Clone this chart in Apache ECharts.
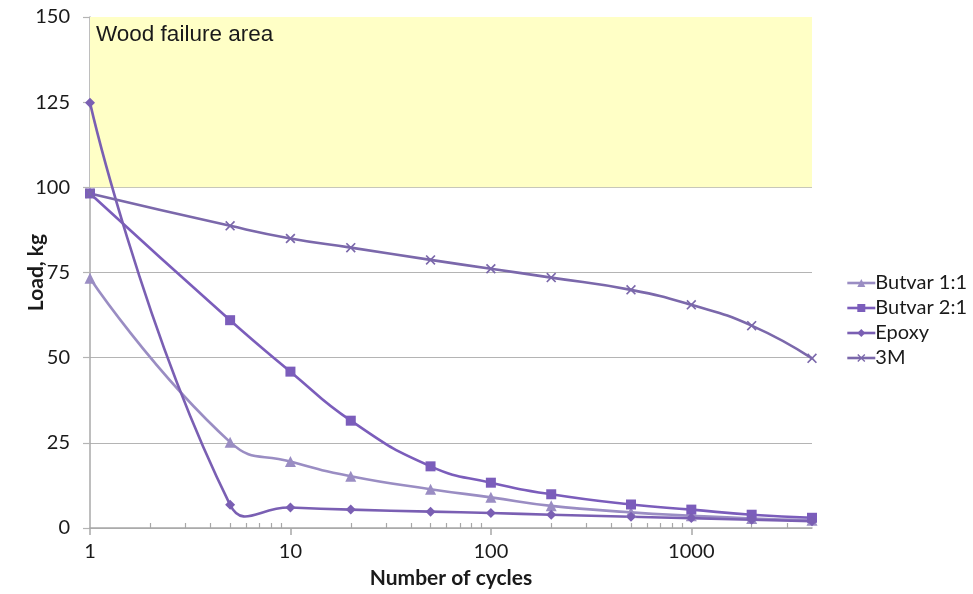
<!DOCTYPE html>
<html>
<head>
<meta charset="utf-8">
<script src="https://cdn.jsdelivr.net/npm/echarts@6/dist/echarts.min.js"></script>
<style>
  html, body { margin: 0; padding: 0; background: #fff; }
  #chart { width: 973px; height: 594px; }
</style>
</head>
<body>
<div id="chart"></div>
<script>
// Number of load cycles at which each adhesive was measured
const cycles = [1, 5, 10, 20, 50, 100, 200, 500, 1000, 2000, 4000];

// Load carried (kg) per adhesive
const butvar11 = [73.3, 25.2, 19.5, 15.2, 11.4, 9.0, 6.5, 4.6, 3.6, 2.8, 2.3];
const butvar21 = [98.2, 61.0, 45.9, 31.5, 18.1, 13.3, 9.9, 6.9, 5.4, 3.9, 3.0];
const epoxy    = [124.8, 6.8, 6.0, 5.4, 4.8, 4.4, 3.9, 3.3, 2.9, 2.4, 2.0];
const threeM   = [98.2, 88.7, 85.0, 82.3, 78.7, 76.1, 73.5, 69.9, 65.5, 59.4, 49.8];

// Axis labelling
const xMajorTicks = [1, 10, 100, 1000];
const xMinorTicks = [2, 3, 4, 5, 6, 7, 8, 9, 20, 30, 40, 50, 60, 70, 80, 90,
                     200, 300, 400, 500, 600, 700, 800, 900, 2000, 3000];
const yTicks = [0, 25, 50, 75, 100, 125, 150];

// Shaded region above the wood strength limit
const failureBand = [100, 150];
const failureLabel = 'Wood failure area';

const seriesNames = ['Butvar 1:1', 'Butvar 2:1', 'Epoxy', '3M'];
const seriesData = [butvar11, butvar21, epoxy, threeM];
const seriesColors = ['#9a8dc3', '#7b5dbb', '#7a5fb3', '#7b68ab'];

const font = 'Lato, "Open Sans", sans-serif';
const gridColor = '#b4b4b4';
const axisColor = '#a8a8a8';
const xShape = 'path://M0,1.2 L1.2,0 L5,3.8 L8.8,0 L10,1.2 L6.2,5 L10,8.8 L8.8,10 L5,6.2 L1.2,10 L0,8.8 L3.8,5 Z';
const symbols = ['triangle', 'rect', 'diamond', xShape];
const symbolSizes = [11, 10, 10, 10];

const SMOOTH = 0.5;
const LINE_W = 2.6;

const pairs = arr => cycles.map((c, i) => [c, arr[i]]);

const gridRect = { left: 90, right: 161, top: 17, bottom: 66, outerBoundsMode: 'none', containLabel: false };

const chart = echarts.init(document.getElementById('chart'), null, { renderer: 'canvas' });

// Curve through the points in pixel space: each control point follows the
// neighbour-to-neighbour direction, weighted by segment length, unclamped.
function curveSegment(values, color) {
  return function (params, api) {
    const i = params.dataIndex;
    if (i >= cycles.length - 1) return { type: 'group', children: [] };
    const pt = k => api.coord([cycles[Math.max(0, Math.min(cycles.length - 1, k))],
                               values[Math.max(0, Math.min(cycles.length - 1, k))]]);
    const p0 = pt(i - 1), p1 = pt(i), p2 = pt(i + 1), p3 = pt(i + 2);
    const dist = (a, b) => Math.hypot(b[0] - a[0], b[1] - a[1]);
    function ctrl(prev, cur, next, forward) {
      const d0 = dist(prev, cur), d1 = dist(cur, next);
      if (d0 + d1 === 0) return cur.slice();
      const vx = next[0] - prev[0], vy = next[1] - prev[1];
      const w = forward ? d1 / (d0 + d1) : d0 / (d0 + d1);
      const sgn = forward ? 1 : -1;
      return [cur[0] + sgn * vx * SMOOTH * w, cur[1] + sgn * vy * SMOOTH * w];
    }
    const c1 = i === 0 ? p1.slice() : ctrl(p0, p1, p2, true);
    const c2 = i + 1 === cycles.length - 1 ? p2.slice() : ctrl(p1, p2, p3, false);
    return {
      type: 'bezierCurve',
      shape: { x1: p1[0], y1: p1[1], x2: p2[0], y2: p2[1],
               cpx1: c1[0], cpy1: c1[1], cpx2: c2[0], cpy2: c2[1] },
      style: { stroke: color, lineWidth: LINE_W, fill: null, lineCap: 'round' }
    };
  };
}

const curveSeries = seriesData.map((vals, k) => ({
  name: seriesNames[k] + ' curve',
  type: 'custom',
  xAxisIndex: 0,
  yAxisIndex: 0,
  data: pairs(vals),
  renderItem: curveSegment(vals, seriesColors[k]),
  silent: true,
  clip: false,
  z: 2
}));

const markerSeries = seriesData.map((vals, k) => ({
  name: seriesNames[k],
  type: 'line',
  xAxisIndex: 0,
  yAxisIndex: 0,
  data: pairs(vals),
  symbol: symbols[k],
  symbolSize: symbolSizes[k],
  showSymbol: true,
  lineStyle: { color: seriesColors[k], width: 0, opacity: 0 },
  itemStyle: { color: seriesColors[k] },
  z: 3
}));

markerSeries[0].markArea = {
  silent: true,
  itemStyle: { color: '#ffffc6' },
  label: {
    show: true,
    position: 'insideTopLeft',
    distance: 6,
    fontFamily: '"Liberation Sans", Arial, sans-serif',
    fontSize: 22.5,
    color: '#1a1a1a'
  },
  data: [[
    { name: failureLabel, yAxis: failureBand[0], xAxis: cycles[0] },
    { yAxis: failureBand[1], xAxis: cycles[cycles.length - 1] }
  ]]
};

chart.setOption({
  animation: false,
  backgroundColor: '#ffffff',
  grid: [
    Object.assign({}, gridRect),
    Object.assign({}, gridRect)
  ],
  legend: {
    orient: 'vertical',
    left: 841,
    top: 268,
    itemGap: 5,
    itemWidth: 28,
    itemHeight: 10,
    lineStyle: { width: LINE_W, opacity: 1 },
    textStyle: { fontFamily: font, fontSize: 20, color: '#1a1a1a', padding: [0, 0, 0, -5] },
    data: seriesNames
  },
  xAxis: [
    {
      type: 'log',
      gridIndex: 0,
      logBase: 10,
      min: 1,
      max: 4000,
      name: 'Number of cycles',
      nameLocation: 'middle',
      nameGap: 40,
      nameMoveOverlap: false,
      nameTextStyle: { fontFamily: font, fontSize: 21, fontWeight: 'bold', color: '#1a1a1a' },
      axisLine: { show: true, lineStyle: { color: axisColor, width: 1.5 } },
      axisTick: { show: true, inside: false, length: 7, customValues: xMajorTicks, lineStyle: { color: axisColor, width: 1.5 } },
      axisLabel: { customValues: xMajorTicks, formatter: v => String(v), fontFamily: font, fontSize: 20, color: '#1a1a1a', margin: 14 },
      splitLine: { show: false },
      minorTick: { show: false }
    },
    {
      type: 'log',
      gridIndex: 1,
      logBase: 10,
      min: 1,
      max: 4000,
      axisLine: { show: false },
      axisTick: { show: true, inside: true, length: 5, customValues: xMinorTicks, lineStyle: { color: axisColor, width: 1.2 } },
      axisLabel: { show: false },
      splitLine: { show: false }
    }
  ],
  yAxis: [
    {
      type: 'value',
      gridIndex: 0,
      min: yTicks[0],
      max: yTicks[yTicks.length - 1],
      interval: 25,
      name: 'Load, kg',
      nameLocation: 'middle',
      nameGap: 43,
      nameMoveOverlap: false,
      nameTextStyle: { fontFamily: font, fontSize: 21, fontWeight: 'bold', color: '#1a1a1a' },
      axisLine: { show: true, lineStyle: { color: axisColor, width: 1.5 } },
      axisTick: { show: true, inside: false, length: 7, lineStyle: { color: gridColor, width: 1.2 } },
      axisLabel: { fontFamily: font, fontSize: 20, color: '#1a1a1a', margin: 20 },
      splitLine: { show: true, lineStyle: { color: gridColor, width: 1.2 } }
    },
    {
      type: 'value',
      gridIndex: 1,
      min: yTicks[0],
      max: yTicks[yTicks.length - 1],
      show: false
    }
  ],
  series: markerSeries.concat(curveSeries)
});
</script>
</body>
</html>
